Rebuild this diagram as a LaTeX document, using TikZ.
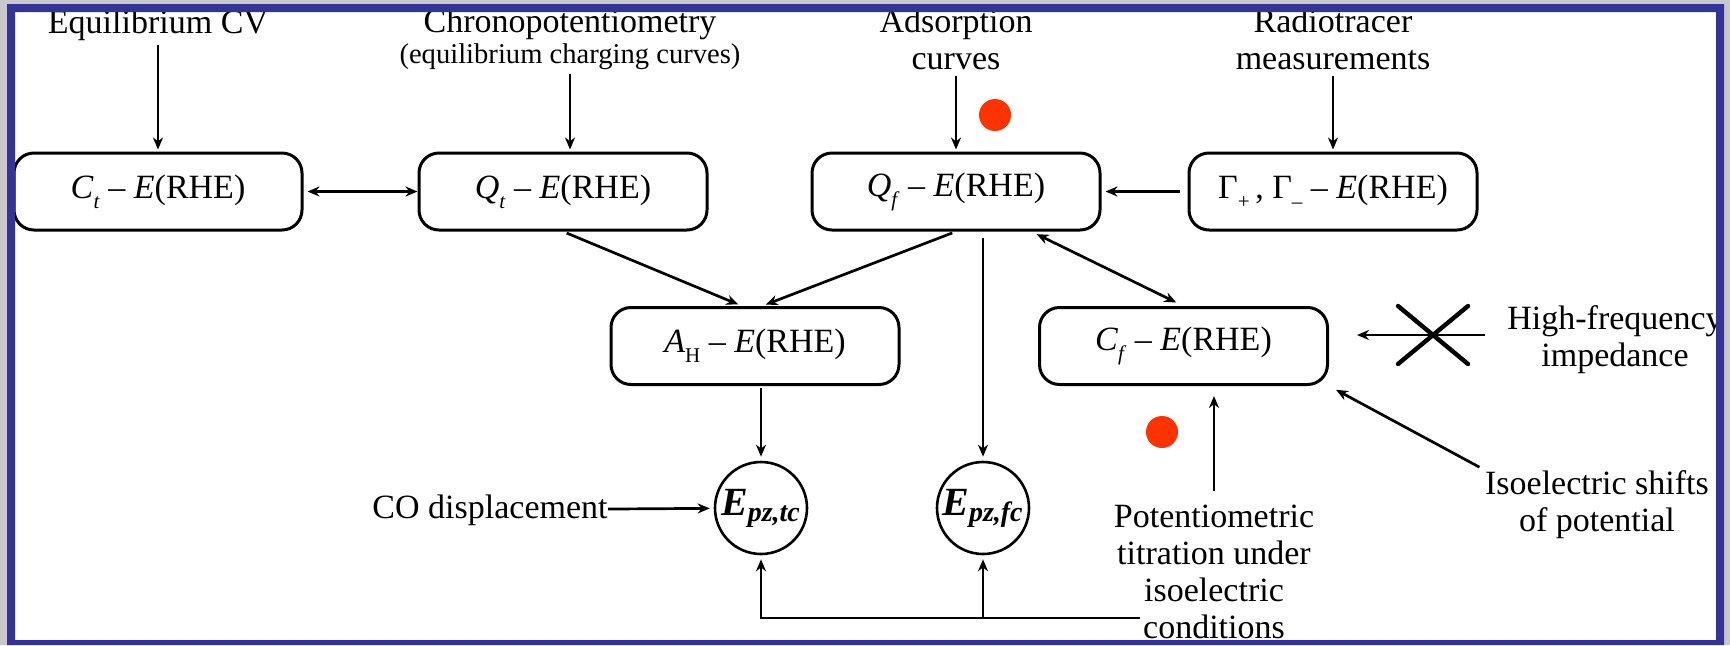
\documentclass[tikz,border=0pt]{standalone}
\usepackage{fontspec}
\setmainfont{Liberation Serif}
\usetikzlibrary{arrows.meta}
\definecolor{fondgris}{RGB}{200,200,204}
\definecolor{cadrebleu}{RGB}{51,51,153}
\definecolor{pointrouge}{RGB}{255,51,0}
\newcommand{\ind}[1]{\raisebox{-5pt}{\fontsize{10.5}{11}\selectfont #1}}
\begin{document}
\begin{tikzpicture}[x=0.5pt,y=-0.5pt,
  boite/.style={draw,rounded corners=10pt,line width=1.5pt,minimum width=144pt,minimum height=38.5pt,inner sep=0pt,font=\fontsize{17}{19}\selectfont},
  etiq/.style={inner sep=0pt,align=center,anchor=north,font=\fontsize{17}{18.5}\selectfont},
  epz/.style={draw,circle,line width=1.3pt,minimum size=46pt,inner sep=0pt,font=\fontsize{20}{22}\selectfont\bfseries\itshape},
  fl/.style={line width=1.35pt,-{Stealth[length=6pt,width=5pt]}},
  fldouble/.style={line width=1.35pt,{Stealth[length=6pt,width=5pt]}-{Stealth[length=6pt,width=5pt]}},
  point/.style={circle,fill=pointrouge,minimum size=16pt,inner sep=0pt}]

\useasboundingbox (0,0) rectangle (1730,645);
\fill[fondgris] (0,0) rectangle (1730,645);
\fill[white] (15,12) rectangle (1716,640);

\begin{scope}
\clip (15,12) rectangle (1716,640);

% les boites
\node[boite] (ct) at (158,191.5) {\textit{C}\ind{\textit{t}} – \textit{E}(RHE)};
\node[boite] (qt) at (563,191.5) {\textit{Q}\ind{\textit{t}} – \textit{E}(RHE)};
\node[boite] (qf) at (956,191.5) {\textit{Q}\ind{\textit{f}} – \textit{E}(RHE)};
\node[boite] (gam) at (1333,191.5) {Γ\ind{+}\,, Γ\ind{–} – \textit{E}(RHE)};
\node[boite] (ah) at (755,346) {\textit{A}\ind{H} – \textit{E}(RHE)};
\node[boite] (cf) at (1183.5,346) {\textit{C}\ind{\textit{f}} – \textit{E}(RHE)};
\node[epz] (pztc) at (761,508) {E\textsubscript{pz,tc}};
\node[epz] (pzfc) at (983,508) {E\textsubscript{pz,fc}};

% les methodes
\node[etiq] (equil) at (158,9) {Equilibrium CV};
\node[etiq] (chrono) at (570,8) {Chronopotentiometry\\[-3pt]{\fontsize{14.3}{15}\selectfont (equilibrium charging curves)}};
\node[etiq] (adsorb) at (956,8) {Adsorption\\curves};
\node[etiq] (radio) at (1333,8) {Radiotracer\\measurements};
\node[etiq] (hf) at (1615,305) {High-frequency\\impedance};
\node[etiq] (isoel) at (1597,470) {Isoelectric shifts\\of potential};
\node[etiq] (potent) at (1214,505) {Potentiometric\\titration under\\isoelectric\\conditions};
\node[etiq,anchor=base east] (co) at (608,518) {CO displacement};

\node[point] (p1) at (995,115) {};
\node[point] (p2) at (1162,432) {};

\coordinate (croix) at (1433,335);
\coordinate (hfdeb) at (1485,335);
\coordinate (fin) at (1140,618);

% les fleches
\draw[fl,shorten <=2pt,shorten >=1pt] (equil) -- (ct);
\draw[fl,shorten <=2pt,shorten >=1pt] (chrono.south) -- (chrono.south |- qt.north);
\draw[fl,shorten <=3pt,shorten >=1pt] (adsorb) -- (qf);
\draw[fl,shorten <=3pt,shorten >=1pt] (radio) -- (gam);
\draw[fldouble,shorten <=2pt] (ct) -- (qt);
\draw[fl,shorten <=4pt,shorten >=2pt] (gam) -- (qf);
\draw[fl,shorten <=2pt,shorten >=2pt] (qt.south) -- (ah.108);
\draw[fl,shorten <=2pt,shorten >=2pt] (qf.south) -- (ah.80);
\draw[fldouble,shorten <=3pt,shorten >=4pt] (qf.-28) -- (cf.north);
\draw[fl,shorten <=3pt,shorten >=2pt] (pzfc.north |- qf.south) -- (pzfc);
\draw[fl,shorten <=1pt,shorten >=2pt] (pztc.north |- ah.south) -- (pztc);
\draw[fl,shorten >=2pt] (co) -- (pztc);
\draw[fl,shorten >=2pt] (fin) -| (pztc.south);
\draw[fl,shorten >=2pt] (pzfc.south |- fin) -- (pzfc.south);
\draw[fl,shorten <=7pt,shorten >=5pt] (potent.north) -- (potent.north |- cf.south);
\draw[fl,shorten <=3pt,shorten >=4pt] (isoel.north west) -- (cf.south east);
\draw[fl,shorten >=14pt] (hfdeb) -- (cf.east |- croix);
\draw[line width=2.2pt,line cap=round] (croix) +(-35,-29) -- +(35,29) (croix) +(35,-29) -- +(-35,29);
\end{scope}

% le cadre
\fill[cadrebleu,even odd rule] (7,4) rectangle (1724,645) (15,12) rectangle (1716,640);
\end{tikzpicture}
\end{document}
